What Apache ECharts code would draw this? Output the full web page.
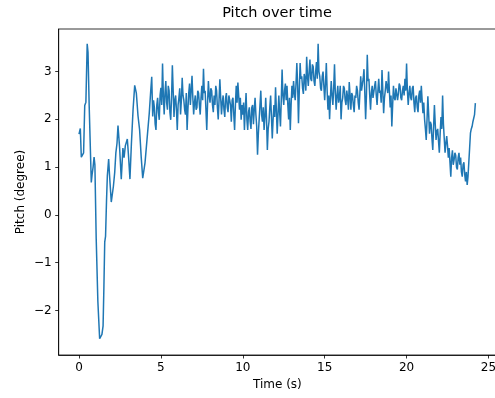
<!DOCTYPE html>
<html>
<head>
<meta charset="utf-8">
<script src="https://cdn.jsdelivr.net/npm/echarts@6/dist/echarts.min.js"></script>
<style>
  html, body { margin: 0; padding: 0; background: #fff; }
  #chart { width: 495px; height: 398px; }
</style>
</head>
<body>
<div id="chart"></div>
<script>
  // first few seconds: [time, pitch]
  const startPoints = [
    [0, 1.69], [0.08, 1.81], [0.14, 1.21], [0.2, 1.24], [0.28, 1.3], [0.35, 2.29], [0.42, 2.36],
    [0.5, 3.58], [0.55, 3.4], [0.62, 2.3], [0.75, 0.68], [0.8, 0.85], [0.86, 1.0], [0.92, 1.21],
    [0.97, 1.05], [1.05, -0.5], [1.15, -1.8], [1.26, -2.59], [1.33, -2.62], [1.4, -2.5], [1.47, -2.32],
    [1.52, -1.5], [1.57, -0.57], [1.62, -0.45], [1.68, 0.3], [1.73, 0.82], [1.81, 1.17], [1.86, 0.85],
    [1.97, 0.27], [2.05, 0.27], [2.1, 0.6], [2.18, 0.89], [2.25, 1.3], [2.32, 1.5], [2.38, 1.87],
    [2.48, 1.4], [2.58, 0.75], [2.68, 1.4], [2.75, 1.2], [2.83, 1.45], [2.95, 1.59], [3.03, 1.2],
    [3.11, 0.75], [3.2, 1.5], [3.3, 2.2], [3.4, 2.71], [3.5, 2.55], [3.6, 2.08], [3.7, 1.78],
    [3.8, 1.2], [3.89, 0.77], [3.95, 0.8], [4.03, 1.09], [4.15, 1.12], [4.29, 2.13], [4.38, 2.6],
    [4.44, 2.89]
  ];

  // the rest is sampled every 0.05 s starting at 4.5 s (one row per second)
  const noisyStart = 4.5;
  const noisyStep = 0.05;
  const noisyValues = [
    2.06, 2.4, 2.25, 1.9, 1.78, 2.3, 2.45, 2.15, 1.99, 2.5,
    2.66, 2.3, 3.17, 2.5, 2.1, 2.55, 2.8, 2.35, 2.2, 2.7, 2.6, 2.15, 1.99, 2.45, 3.13, 2.6, 2.05, 2.4, 2.5, 2.2,
    1.78, 2.3, 2.45, 2.65, 2.1, 2.4, 2.87, 2.5, 2.4, 2.2, 2.1, 2.55, 1.78, 2.2, 2.55, 2.75, 2.3, 2.6, 2.91, 2.45,
    2.1, 2.35, 2.5, 2.2, 2.25, 2.6, 2.55, 2.3, 2.1, 2.45, 2.7, 2.4, 3.06, 2.55, 2.6, 2.2, 1.78, 2.35, 2.8, 2.5,
    2.35, 2.65, 2.6, 2.3, 2.15, 2.5, 2.3, 2.7, 2.6, 2.25, 2.0, 2.4, 2.84, 2.45, 2.1, 2.35, 2.5, 2.2, 2.05, 2.45,
    2.55, 2.25, 2.15, 2.5, 2.5, 2.3, 1.95, 2.4, 2.45, 2.1, 1.78, 2.3, 2.7, 2.35, 2.77, 2.5, 2.2, 2.45, 1.99, 2.3,
    2.1, 2.35, 1.78, 2.2, 2.55, 2.0, 1.78, 2.15, 2.25, 1.95, 1.8, 2.25, 2.3, 1.9, 2.2, 2.45, 2.1, 1.85, 1.26, 1.7,
    2.0, 2.3, 2.6, 2.1, 1.95, 2.25, 1.78, 2.05, 2.45, 2.0, 1.36, 1.8, 1.95, 2.25, 2.5, 2.05, 1.6, 2.0, 2.3, 2.05,
    2.67, 2.2, 1.7, 2.1, 2.5, 2.15, 1.85, 2.4, 3.04, 2.5, 2.3, 2.6, 2.75, 2.4, 2.7, 2.3, 2.0, 2.45, 1.78, 2.3,
    2.7, 2.45, 2.8, 2.55, 2.4, 2.75, 3.18, 2.7, 1.92, 2.6, 3.18, 2.85, 2.9, 2.65, 2.53, 2.95, 2.85, 2.6, 3.31, 2.9,
    2.7, 3.0, 3.25, 2.85, 2.8, 3.15, 3.1, 2.8, 2.7, 3.0, 3.2, 2.85, 3.58, 3.0, 2.9, 2.65, 2.6, 2.9, 3.0, 2.7,
    2.4, 2.75, 3.18, 2.6, 2.2, 2.5, 2.0, 2.45, 2.8, 2.5, 2.3, 2.65, 3.15, 2.55, 2.2, 2.5, 2.7, 2.35, 2.45, 2.7,
    2.0, 2.35, 2.45, 2.7, 2.65, 2.4, 2.3, 2.6, 2.45, 2.2, 2.78, 2.5, 2.2, 2.55, 2.5, 2.3, 2.15, 2.5, 2.45, 2.7,
    2.6, 2.35, 2.2, 2.55, 2.9, 2.6, 2.6, 2.85, 3.05, 2.55, 2.0, 2.5, 3.35, 2.8, 2.85, 2.5, 2.2, 2.55, 2.7, 2.45,
    2.47, 2.7, 2.8, 2.5, 2.3, 2.6, 2.85, 2.55, 2.6, 2.35, 3.03, 2.6, 2.13, 2.45, 2.6, 2.8, 2.8, 2.55, 3.0, 2.6,
    2.25, 2.5, 1.85, 2.3, 2.7, 2.45, 2.4, 2.65, 2.65, 2.4, 2.55, 2.75, 2.7, 2.45, 2.4, 2.6, 2.7, 2.5, 2.85, 2.6,
    3.17, 2.6, 2.3, 2.55, 2.7, 2.45, 2.4, 2.65, 2.7, 2.35, 2.15, 2.45, 2.5, 2.25, 2.15, 2.5, 2.6, 2.35, 2.7, 2.4,
    2.13, 2.35, 2.0, 1.8, 1.57, 2.0, 2.48, 2.1, 1.7, 1.95, 1.9, 1.6, 1.36, 1.85, 2.3, 1.9, 1.57, 1.75, 1.8, 1.55,
    1.3, 1.7, 2.05, 1.8, 2.5, 1.9, 1.6, 1.3, 1.5, 1.65, 1.45, 1.2, 1.4, 1.1, 0.8, 1.2, 1.35, 1.05, 1.15, 1.3,
    1.25, 1.0, 0.95, 1.2, 1.3, 1.05, 1.2, 0.9, 0.8, 1.05, 1.1, 0.85, 0.7, 0.9, 0.63, 0.8, 1.1, 1.4, 1.71, 1.8,
    1.85, 1.95, 1.95, 2.1, 2.34
  ];

  const xTicks = [0, 5, 10, 15, 20, 25];
  const yTicks = [-2, -1, 0, 1, 2, 3];

  const points = startPoints.concat(
    noisyValues.map((v, i) => [+(noisyStart + i * noisyStep).toFixed(2), v])
  );

  const font = 'DejaVu Sans';
  const myChart = echarts.init(document.getElementById('chart'));
  myChart.setOption({
    animation: false,
    title: {
      text: 'Pitch over time',
      left: 277,
      textAlign: 'center',
      top: 6,
      padding: 0,
      textStyle: {fontFamily: font, fontSize: 14.5, fontWeight: 'normal', color: '#000'}
    },
    grid: {
      left: 58.7, right: -1, top: 29, bottom: 43,
      outerBoundsMode: 'none',
      show: true, borderColor: '#000', borderWidth: 0.8
    },
    xAxis: {
      type: 'value',
      min: -1.24,
      max: 25.46,
      name: 'Time (s)',
      nameLocation: 'middle',
      nameGap: 24,
      nameTextStyle: {fontFamily: font, fontSize: 12, color: '#000'},
      axisLine: {show: true, onZero: false, lineStyle: {color: '#000', width: 0.8}},
      axisTick: {show: true, length: 3.5, lineStyle: {color: '#000', width: 0.8}, customValues: xTicks},
      axisLabel: {
        fontFamily: font, fontSize: 12, color: '#000', margin: 7, customValues: xTicks,
        alignMaxLabel: 'center', alignMinLabel: 'center'
      },
      splitLine: {show: false}
    },
    yAxis: {
      type: 'value',
      min: -2.93,
      max: 3.89,
      name: 'Pitch (degree)',
      nameLocation: 'middle',
      nameGap: 32,
      nameMoveOverlap: false,
      nameTextStyle: {fontFamily: font, fontSize: 12, color: '#000'},
      axisLine: {show: true, onZero: false, lineStyle: {color: '#000', width: 0.8}},
      axisTick: {show: true, length: 3.5, lineStyle: {color: '#000', width: 0.8}, customValues: yTicks},
      axisLabel: {
        fontFamily: font, fontSize: 12, color: '#000', margin: 7, customValues: yTicks,
        formatter: v => String(v).replace('-', '\u2212')
      },
      splitLine: {show: false}
    },
    series: [{
      type: 'line',
      data: points,
      showSymbol: false,
      symbol: 'none',
      lineStyle: {color: '#1f77b4', width: 1.5},
      itemStyle: {color: '#1f77b4'}
    }]
  });
</script>
</body>
</html>
